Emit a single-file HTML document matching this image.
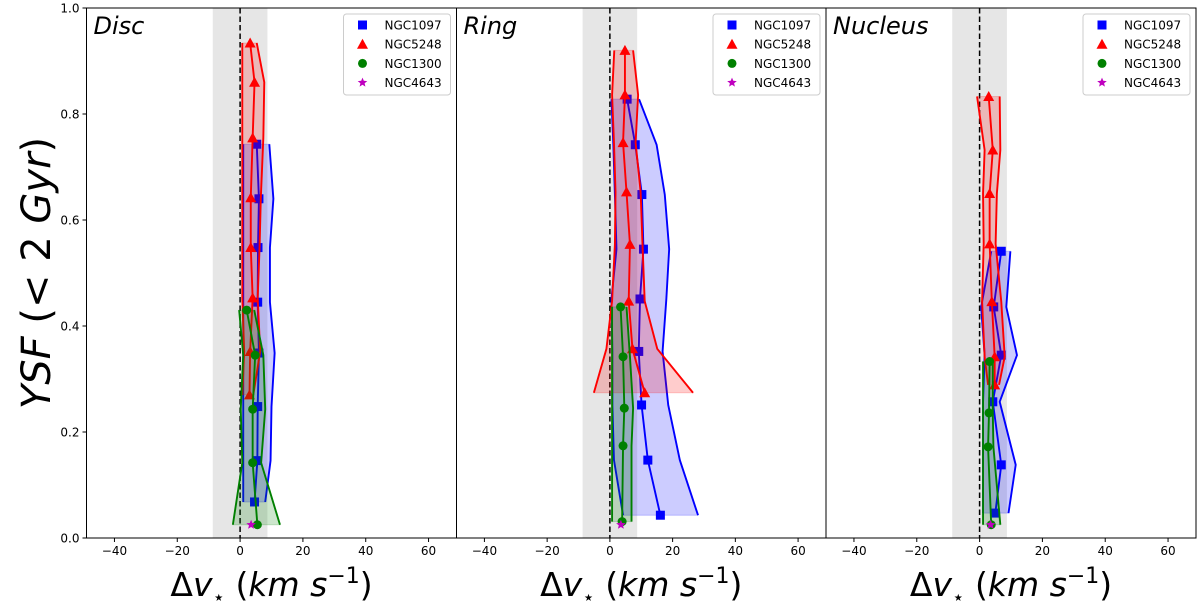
<!DOCTYPE html>
<html><head><meta charset="utf-8"><style>
html,body{margin:0;padding:0;background:#fff;}
svg{display:block;font-family:"DejaVu Sans","Liberation Sans",sans-serif;}
</style></head><body>
<svg id="chart" width="1200" height="605" viewBox="0 0 1200 605" xmlns="http://www.w3.org/2000/svg"></svg>
<script>
const panelTitles = ["Disc","Ring","Nucleus"];
const galaxies = ["NGC1097","NGC5248","NGC1300","NGC4643"];
const xTicks = [-40,-20,0,20,40,60];
const yTicks = [0.0,0.2,0.4,0.6,0.8,1.0];
// Disc
const discBlueY=[0.743,0.64,0.548,0.445,0.349,0.248,0.146,0.068];
const discBlueX=[5.3,6,5.7,5.6,6,5.6,5.5,4.6];
const discBlueHi=[9.3,10.6,9.5,9.5,11,10,9.7,8];
const discBlueLo=[1,1,1,1,1,1,1,1];
const discRedY=[0.934,0.86,0.755,0.642,0.548,0.453,0.352,0.27];
const discRedX=[3.2,4.6,4,3.4,3.4,4,3.2,3];
const discRedHi=[5.3,7.7,7.4,6.6,6.2,5.6,6.4,4.2];
const discRedLo=[0.7,0.7,0.7,0.7,0.7,0.7,1.3,0.7];
const discGreenY=[0.43,0.345,0.243,0.142,0.025];
const discGreenX=[2.1,4.8,4,4,5.5];
const discGreenHi=[4.5,7.4,8,6.7,12.7];
const discGreenLo=[-0.3,1,0.2,0.7,-2.3];
// Ring
const ringBlueY=[0.828,0.742,0.648,0.545,0.451,0.352,0.251,0.147,0.043];
const ringBlueX=[5.5,8.1,10.2,10.7,9.6,9.2,10.1,12.1,16.1];
const ringBlueHi=[9.3,14.9,17.5,18.9,18,16.8,18.6,22.3,28.1];
const ringBlueLo=[0.5,1.1,1.6,2.1,0.5,0.8,0.8,1.3,4.2];
const ringRedY=[0.92,0.836,0.746,0.653,0.554,0.447,0.357,0.274];
const ringRedX=[4.8,4.8,4.2,5.3,6.4,6,7.2,11.1];
const ringRedHi=[7.4,9,8.2,9.8,10.4,11.1,15.1,26.5];
const ringRedLo=[1.4,0.7,1.3,1.8,1.6,0.7,-1.1,-5.1];
const ringGreenY=[0.436,0.342,0.245,0.174,0.031];
const ringGreenX=[3.4,4.2,4.6,4.2,3.9];
const ringGreenHi=[5.3,6.4,7.4,6.9,6.9];
const ringGreenLo=[0.7,0.7,0.7,0.7,0.7];
// Nucleus
const nucBlueY=[0.541,0.436,0.345,0.257,0.138,0.047];
const nucBlueX=[6.9,4.5,6.9,4.2,6.9,5];
const nucBlueHi=[9.8,8.5,11.9,6.4,11.5,9.2];
const nucBlueLo=[3.7,0.5,1.6,1.1,1.1,1.1];
const nucRedY=[0.833,0.732,0.65,0.555,0.446,0.342,0.289];
const nucRedX=[2.9,4.2,3.2,3.2,3.9,4.8,4.8];
const nucRedHi=[6.4,6.6,5.5,5.1,6.9,8,6.2];
const nucRedLo=[-0.8,1.6,1.1,1.3,0.8,1.6,2.7];
const nucGreenY=[0.333,0.236,0.172,0.025];
const nucGreenX=[3.2,3,2.7,3.7];
const nucGreenHi=[4.2,4.2,4.4,6.6];
const nucGreenLo=[1.1,1.1,1.1,1.1];
const starY=[0.025,0.025,0.025];
const starX=[3.5,3.5,3.5];

const NS="http://www.w3.org/2000/svg";
const svg=document.getElementById('chart');
function mk(tag,attrs,parent){const e=document.createElementNS(NS,tag);for(const k in attrs)e.setAttribute(k,attrs[k]);(parent||svg).appendChild(e);return e;}
const panels=[{l:86.5,r:456.5},{l:456.5,r:826},{l:826,r:1196}];
const TOP=8,BOT=538,XMIN=-48.9,XMAX=68.9;
const colors=["#0000ff","#ff0000","#008000","#bf00bf"];
const sets=[
 [[discBlueY,discBlueX,discBlueHi,discBlueLo],[discRedY,discRedX,discRedHi,discRedLo],[discGreenY,discGreenX,discGreenHi,discGreenLo]],
 [[ringBlueY,ringBlueX,ringBlueHi,ringBlueLo],[ringRedY,ringRedX,ringRedHi,ringRedLo],[ringGreenY,ringGreenX,ringGreenHi,ringGreenLo]],
 [[nucBlueY,nucBlueX,nucBlueHi,nucBlueLo],[nucRedY,nucRedX,nucRedHi,nucRedLo],[nucGreenY,nucGreenX,nucGreenHi,nucGreenLo]]
];
function yS(v){return BOT-(v)*(BOT-TOP);}
function marker(g,type,x,y,c){
  let e;
  if(type===0)e=mk('rect',{x:x-4.5,y:y-4.5,width:9,height:9,fill:c},g);
  else if(type===1)e=mk('polygon',{points:`${x},${y-5.5} ${x+5.5},${y+4.5} ${x-5.5},${y+4.5}`,fill:c},g);
  else if(type===2)e=mk('circle',{cx:x,cy:y,r:4.5,fill:c},g);
  else{let p=[];for(let i=0;i<10;i++){const r=i%2?2.2:5;const a=-Math.PI/2+i*Math.PI/5;p.push((x+r*Math.cos(a)).toFixed(1)+','+(y+r*Math.sin(a)).toFixed(1));}e=mk('polygon',{points:p.join(' '),fill:c},g);}
  
  
  return e;
}
panels.forEach((p,pi)=>{
  const xS=v=>p.l+(v-XMIN)/(XMAX-XMIN)*(p.r-p.l);
  const g=mk('g',{});
  
  
  const band=mk('rect',{x:xS(-8.7),y:TOP,width:xS(8.7)-xS(-8.7),height:BOT-TOP,fill:'#808080','fill-opacity':0.2},g);
  
  
  const dl=mk('line',{x1:xS(0),x2:xS(0),y1:TOP,y2:BOT,stroke:'#000','stroke-width':1.5,'stroke-dasharray':'5.5,3'},g);
  
  
  sets[pi].forEach((s,si)=>{
    const [Y,X,H,L]=s;const c=colors[si];
    const pts=Y.map((y,i)=>xS(H[i])+','+yS(y)).concat(Y.map((y,i)=>xS(L[i])+','+yS(y)).reverse());
    const poly=mk('polygon',{points:pts.join(' '),fill:c,'fill-opacity':0.2,stroke:c,'stroke-opacity':0.2},g);
    
    
    [H,L].forEach(A=>{const e=mk('polyline',{points:Y.map((y,i)=>xS(A[i])+','+yS(y)).join(' '),fill:'none',stroke:c,'stroke-width':1.9},g);
      
      });
    const ln=mk('polyline',{points:Y.map((y,i)=>xS(X[i])+','+yS(y)).join(' '),fill:'none',stroke:c,'stroke-width':1.9},g);
    
    
    Y.forEach((y,i)=>marker(g,si,xS(X[i]),yS(y),c));
  });
  marker(g,3,xS(starX[pi]),yS(starY[pi]),colors[3]);
  const fr=mk('rect',{x:p.l,y:TOP,width:p.r-p.l,height:BOT-TOP,fill:'none',stroke:'#000','stroke-width':1},g);
  
  
  xTicks.forEach(t=>{const x=xS(t);mk('line',{x1:x,x2:x,y1:BOT,y2:BOT+4,stroke:'#000'},g);
    const tx=mk('text',{x:x,y:BOT+17,'font-size':12,'text-anchor':'middle'},g);tx.textContent=(t<0?'\u2212'+(-t):t);
    
    });
  if(pi===0){yTicks.forEach(t=>{const y=yS(t);mk('line',{x1:p.l-4,x2:p.l,y1:y,y2:y,stroke:'#000'},g);
    const tx=mk('text',{x:p.l-7,y:y+4.5,'font-size':12,'text-anchor':'end'},g);tx.textContent=t.toFixed(1);
    
    });}
  const tt=mk('text',{x:p.l+7,y:TOP+26,'font-size':24,'font-style':'italic'},g);tt.textContent=panelTitles[pi];
  
  
  const xl=mk('text',{x:(p.l+p.r)/2,y:596,'font-size':33,'text-anchor':'middle'},g);
  xl.innerHTML='\u0394<tspan font-style="italic">v</tspan><tspan font-size="20" dy="8">\u22c6</tspan><tspan dy="-8"> (</tspan><tspan font-style="italic">km s</tspan><tspan font-size="22" dy="-13">\u22121</tspan><tspan dy="13">)</tspan>';
  
  
  const lg=mk('g',{},g);
  
  
  const lx=p.r-113;
  mk('rect',{x:lx,y:14,width:107,height:81,rx:3,fill:'#fff','fill-opacity':0.8,stroke:'#ccc'},lg);
  galaxies.forEach((n,i)=>{const y=25+i*19.2;marker(lg,i,lx+19,y,colors[i]);
    const t=mk('text',{x:lx+41,y:y+4.5,'font-size':12},lg);t.textContent=n;
    
    });
});
const yl=mk('text',{x:0,y:0,'font-size':40,'text-anchor':'middle','font-style':'italic',transform:'translate(50,273) rotate(-90)'});
yl.innerHTML='YSF<tspan font-style="normal"> (&lt; 2 </tspan>Gyr<tspan font-style="normal">)</tspan>';


</script>
</body></html>
